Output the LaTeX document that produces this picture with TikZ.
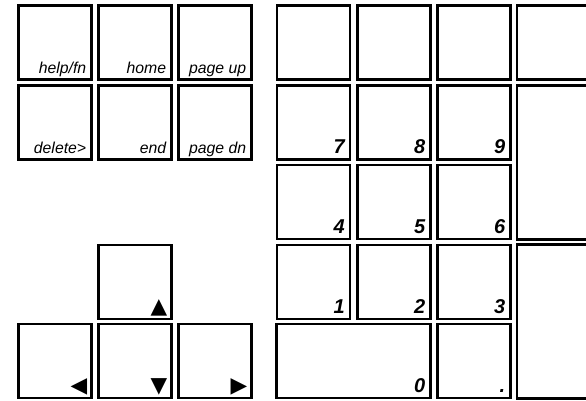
\documentclass[tikz,border=0pt]{standalone}
\usepackage{fontspec}
\setmainfont{Liberation Sans}
\newfontfamily\symfont{DejaVu Sans}
\usepackage{tikz}
\usetikzlibrary{positioning}
\tikzset{
  key/.style={draw, line width=1.1pt, minimum width=36.5pt, minimum height=37pt, inner sep=0pt},
  widekey/.style={key, minimum width=77pt},
  tallkey/.style={key, minimum height=77pt},
  fnlbl/.style={font=\fontsize{7.9}{9}\selectfont\itshape, anchor=base east, inner sep=0pt},
  numlbl/.style={font=\fontsize{10}{11}\selectfont\bfseries\itshape, anchor=base east, inner sep=0pt},
  arrlbl/.style={font=\fontsize{10.8}{12}\selectfont\symfont, anchor=base east, inner sep=0pt}
}

\begin{document}
\begin{tikzpicture}[x=0.5pt, y=-0.5pt]
  \clip (0,0) rectangle (586,401);
  % function keys
  \foreach \name/\lbl/\x/\y in {help/{help/fn}/55/42.5, home/home/135/42.5, pgup/{page up}/215/42.5,
                                del/{delete>}/55/122.5, end/end/135/122.5, pgdn/{page dn}/215/122.5} {
    \node[key] (k\name) at (\x,\y) {};
    \node[fnlbl] (t\name) at ([shift={(-3pt,3.5pt)}]k\name.south east) {\lbl};
  }
  % cursor keys
  \foreach \name/\sym/\x/\y in {up/▲/135/282, left/◀/55/361, down/▼/135/361, right/▶/215/361} {
    \node[key] (k\name) at (\x,\y) {};
    \node[arrlbl] (t\name) at ([shift={(-2.5pt,3.5pt)}]k\name.south east) {\sym};
  }
  % keypad
  \foreach \i/\x in {1/313.5, 2/394, 3/474, 4/553.5}
    \node[key] (ktop\i) at (\x,42.5) {};
  \foreach \d/\x/\y in {7/313.5/122.5, 8/394/122.5, 9/474/122.5,
                        4/313.5/202, 5/394/202, 6/474/202,
                        1/313.5/282, 2/394/282, 3/474/282} {
    \node[key] (k\d) at (\x,\y) {};
    \node[numlbl] (t\d) at ([shift={(-3pt,3.5pt)}]k\d.south east) {\d};
  }
  \node[widekey] (k0) at (353.5,361) {};
  \node[numlbl] (t0) at ([shift={(-3pt,3.5pt)}]k0.south east) {0};
  \node[key] (kdot) at (474,361) {};
  \node[numlbl] (tdot) at ([shift={(-3pt,3.5pt)}]kdot.south east) {.};
  \node[tallkey] (kplus) at (553.5,162.5) {};
  \node[tallkey] (kenter) at (553.5,321.5) {};
\end{tikzpicture}
\end{document}
